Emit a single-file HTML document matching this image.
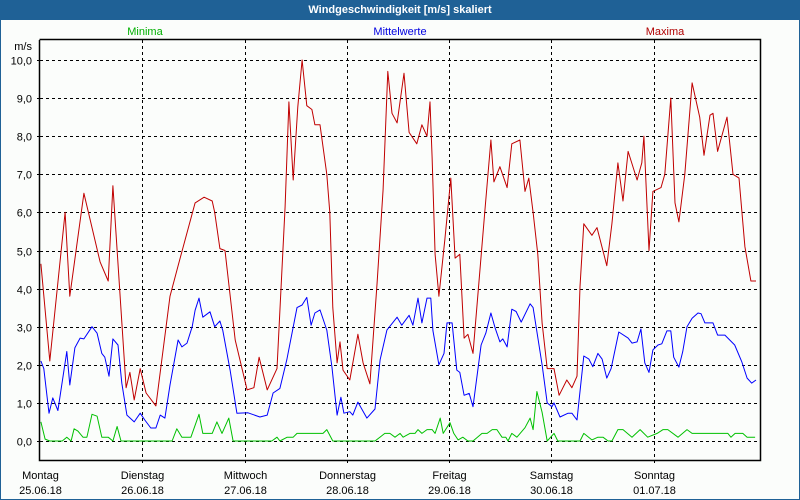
<!DOCTYPE html>
<html><head><meta charset="utf-8">
<style>
html,body{margin:0;padding:0;width:800px;height:500px;overflow:hidden;background:#1f6196;}
#wrap{position:absolute;left:0;top:0;width:800px;height:500px;}
#title{position:absolute;left:0;top:0;width:800px;height:20px;color:#fff;font:bold 11px "Liberation Sans",sans-serif;text-align:center;line-height:20px;}
#inner{position:absolute;left:1px;top:20px;width:798px;height:479px;background:#fbfdfb;}
svg{position:absolute;left:0;top:0;}
text{font-family:"Liberation Sans",sans-serif;font-size:11px;}
</style></head>
<body>
<div id="wrap">
<div id="title">Windgeschwindigkeit [m/s] skaliert</div>
<div id="inner"></div>
<svg id="chart" width="800" height="500"></svg>
</div>
<script>
const dayNames = ["Montag","Dienstag","Mittwoch","Donnerstag","Freitag","Samstag","Sonntag"];
const dayDates = ["25.06.18","26.06.18","27.06.18","28.06.18","29.06.18","30.06.18","01.07.18"];
const yTicks = [0,1,2,3,4,5,6,7,8,9,10];
const yTickLabels = ["0,0","1,0","2,0","3,0","4,0","5,0","6,0","7,0","8,0","9,0","10,0"];

const maxHours = [0.2,2.3,5.9,7.0,10.3,14.1,16.0,17.1,20.2,21.1,22.1,23.5,24.9,27.2,30.5,32.4,36.4,38.5,40.4,41.0,42.2,43.4,45.8,48.6,50.2,51.4,53.3,55.6,57.5,58.4,59.4,60.5,61.5,62.6,63.8,64.5,65.7,67.3,68.0,68.7,69.7,70.4,71.1,72.7,74.6,75.8,77.4,79.1,80.5,81.6,82.6,83.8,85.4,86.6,88.4,89.6,90.8,91.5,92.0,92.7,93.6,95.0,96.4,97.4,98.5,99.5,100.4,101.6,104.4,105.8,106.5,107.9,109.6,110.7,112.6,113.8,114.7,115.7,116.8,117.8,119.0,120.6,121.8,123.6,124.8,126.0,126.7,127.6,129.5,130.7,133.0,134.2,135.6,136.8,138.0,140.1,141.2,141.7,142.9,143.8,145.7,146.6,148.0,149.0,149.9,151.3,153.0,154.8,155.8,157.2,157.9,159.0,161.2,162.6,164.0,165.4,166.8,168.0];
const maxValues = [4.65,2.1,6.0,3.8,6.5,4.7,4.2,6.7,1.4,1.8,1.08,1.9,1.26,0.92,3.8,4.6,6.25,6.4,6.3,6.0,5.05,5.0,2.65,1.34,1.4,2.2,1.34,1.9,6.15,8.9,6.85,8.77,10.0,8.8,8.7,8.3,8.3,7.0,6.0,3.5,2.05,2.6,1.86,1.6,2.8,2.05,1.5,4.15,6.6,9.7,8.6,8.35,9.65,8.1,7.8,8.3,8.0,8.9,7.45,4.9,3.8,5.3,6.9,4.8,4.9,2.7,2.8,2.3,6.05,7.9,6.8,7.2,6.65,7.8,7.9,6.55,6.9,6.0,4.9,3.1,1.9,1.9,1.2,1.6,1.4,1.7,4.05,5.7,5.4,5.6,4.6,5.7,7.3,6.3,7.6,6.85,7.3,8.0,5.0,6.55,6.65,7.0,9.0,6.25,5.75,7.0,9.4,8.5,7.5,8.55,8.6,7.6,8.5,7.0,6.9,5.1,4.2,4.2];

const meanHours = [0.2,0.9,2.1,3.0,4.2,6.3,7.0,8.2,9.4,10.3,12.2,13.4,14.5,15.2,16.2,17.1,18.3,19.2,20.4,22.1,23.5,24.6,26.0,27.2,28.2,29.3,30.5,32.4,33.3,34.5,35.7,36.4,37.3,38.2,39.9,41.0,42.2,42.9,44.6,46.2,48.8,51.6,53.3,54.7,56.3,57.9,60.3,61.5,62.6,63.6,64.5,65.7,67.3,68.5,69.7,70.6,71.3,72.7,73.4,74.6,76.7,78.6,79.8,81.4,83.8,84.9,86.6,87.5,88.7,89.6,90.8,91.7,92.2,93.6,94.8,95.5,96.7,97.8,98.5,99.5,100.7,101.6,103.5,104.6,105.8,106.8,107.9,108.6,109.6,110.7,111.7,112.9,115.0,115.7,117.8,119.0,120.1,120.6,122.0,123.9,124.8,126.0,126.5,127.6,128.8,129.7,130.9,131.9,133.0,134.0,135.8,138.0,138.9,140.1,141.0,141.9,142.9,143.8,145.0,145.9,147.1,148.0,148.7,149.9,150.8,151.8,153.0,154.4,155.1,156.0,157.9,159.0,160.7,163.0,164.7,165.9,167.0,168.0];
const meanValues = [2.1,1.9,0.73,1.13,0.8,2.35,1.47,2.45,2.7,2.68,3.0,2.83,2.3,2.2,1.7,2.68,2.52,1.52,0.68,0.5,0.73,0.55,0.34,0.34,0.68,0.6,1.47,2.65,2.47,2.57,3.0,3.43,3.75,3.25,3.39,3.0,3.15,2.9,1.86,0.73,0.74,0.63,0.68,1.26,1.38,2.13,3.5,3.57,3.77,3.04,3.36,3.44,2.91,1.95,0.68,1.15,0.73,0.77,0.68,1.02,0.6,0.84,2.13,2.91,3.25,3.04,3.3,3.04,3.75,3.1,3.75,3.75,2.9,2.0,2.3,3.1,3.1,1.86,1.8,1.2,1.25,0.9,2.52,2.83,3.36,2.96,2.6,2.68,2.47,3.46,3.4,3.12,3.6,3.5,2.0,1.0,0.9,1.0,0.63,0.73,0.73,0.55,1.08,2.23,2.15,1.95,2.3,2.15,1.65,1.9,2.86,2.7,2.57,2.6,2.94,2.05,1.8,2.39,2.52,2.55,2.89,2.89,2.2,1.94,2.34,3.0,3.22,3.36,3.34,3.1,3.1,2.78,2.78,2.52,2.07,1.65,1.52,1.6];

const minHours = [0.2,1.2,2.3,5.2,6.3,7.3,8.0,8.9,10.1,11.0,12.2,13.4,14.5,16.0,17.1,18.1,19.0,31.0,32.1,33.3,35.4,37.3,38.2,40.4,41.5,42.7,44.3,45.3,54.4,55.6,56.3,58.0,59.4,60.3,66.4,67.3,68.7,78.6,80.9,82.1,83.3,84.5,85.2,86.8,88.0,88.7,89.6,90.8,92.0,92.7,93.9,94.6,96.2,97.1,98.1,99.2,100.4,101.6,103.7,104.9,106.1,107.2,108.4,109.3,109.8,110.7,111.9,113.8,115.0,115.7,116.6,117.8,119.0,120.6,121.5,126.7,127.6,129.5,130.9,132.1,133.3,134.2,135.6,136.8,138.9,140.8,142.6,144.8,146.2,147.3,149.7,151.8,153.0,161.4,162.1,163.1,164.9,165.9,167.8];
const minValues = [0.5,0.05,0,0,0.1,0,0.32,0.26,0.1,0.1,0.7,0.65,0.1,0.1,0,0.38,0,0,0.32,0.1,0.1,0.7,0.2,0.2,0.5,0.2,0.6,0,0,0.1,0,0.1,0.1,0.2,0.2,0.3,0,0,0.2,0.2,0.1,0.2,0.1,0.2,0.2,0.3,0.2,0.3,0.3,0.2,0.6,0.2,0.48,0.2,0.03,0.1,0,0,0.2,0.2,0.3,0.3,0.1,0.1,0,0.2,0.1,0.35,0.6,0.3,1.3,0.75,0,0.2,0,0,0.2,0.03,0.1,0.1,0,0,0.3,0.3,0.1,0.3,0.1,0.2,0.3,0.3,0.1,0.3,0.2,0.2,0.1,0.2,0.2,0.1,0.1];

const NS = "http://www.w3.org/2000/svg";
const svg = document.getElementById("chart");
const L = 40, R = 760, T = 40, B = 460;
const HOURS = 168;
function xScale(h){ return L + h * (716 / HOURS); }
function yScale(v){ return 441 - v * 38.1; }
function mk(tag, attrs){ const e = document.createElementNS(NS, tag); for (const k in attrs) e.setAttribute(k, attrs[k]); svg.appendChild(e); return e; }

yTicks.forEach((v, i) => {
  const y = Math.round(yScale(v)) + 0.5;
  const g = mk("line", {x1: L, x2: R, y1: y, y2: y, stroke: "#000", "stroke-dasharray": "3,3"});
  
  
  const tk = mk("line", {x1: L - 3, x2: L, y1: y, y2: y, stroke: "#000"});
  
  
  const t = mk("text", {x: 32, y: y + 4, "text-anchor": "end", fill: "#000"});
  t.textContent = yTickLabels[i];
  
  
});
const unit = mk("text", {x: 32, y: 50, "text-anchor": "end", fill: "#000"});
unit.textContent = "m/s";



dayNames.forEach((d, i) => {
  const x = Math.round(xScale(i * 24)) + 0.5;
  if (i > 0) {
    const g = mk("line", {x1: x, x2: x, y1: T, y2: B + 3, stroke: "#000", "stroke-dasharray": "3,3"});
    
    
  }
  const t1 = mk("text", {x: x, y: 479, "text-anchor": "middle", fill: "#000"});
  t1.textContent = d;
  
  
  const t2 = mk("text", {x: x, y: 494, "text-anchor": "middle", fill: "#000"});
  t2.textContent = dayDates[i];
  
  
});

const frame = mk("path", {d: `M${L-0.5} ${T} V${B+0.5} H${R+0.5} V${T-0.5} H${L-0.5}`, fill: "none", stroke: "#000", "stroke-width": 1.5});



function series(hours, vals, color, name){
  const pts = hours.map((h, i) => xScale(h).toFixed(1) + "," + yScale(vals[i]).toFixed(1)).join(" ");
  const p = mk("polyline", {points: pts, fill: "none", stroke: color, "stroke-width": 1, "stroke-linejoin": "round"});
  
  
}
series(minHours, minValues, "#00c000", "minima-line");
series(meanHours, meanValues, "#0000ff", "mean-line");
series(maxHours, maxValues, "#c00000", "maxima-line");

[["Minima", "#00b000", 145, "legend-minima"], ["Mittelwerte", "#0000e0", 400, "legend-mittelwerte"], ["Maxima", "#b00000", 665, "legend-maxima"]].forEach(l => {
  const t = mk("text", {x: l[2], y: 35, "text-anchor": "middle", fill: l[1]});
  t.textContent = l[0];
  
  
});
</script>
</body></html>
